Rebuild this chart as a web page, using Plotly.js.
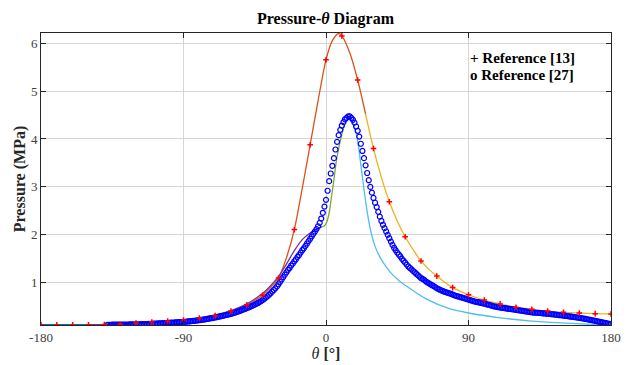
<!DOCTYPE html>
<html>
<head>
<meta charset="utf-8">
<script src="https://cdn.plot.ly/plotly-3.0.1.min.js"></script>
<style>html,body{margin:0;padding:0;background:#fff;}#chart{width:626px;height:365px;}</style>
</head>
<body>
<div id="chart"></div>
<script>
// ---- model line segments (crank angle in degrees, pressure in MPa) ----
const blueTheta = [-180, -150];
const blueP     = [0.125, 0.125];

const orangeTheta = [-150,-140,-130,-120,-110,-100,-90,-80,-70,-60,-55,-50,-45,-40,-35,-30,-25,-20,-15,-10,-5,0,4,8,10,15,20,25];
const orangeP     = [0.125,0.128,0.135,0.155,0.18,0.20,0.225,0.265,0.315,0.41,0.47,0.54,0.63,0.74,0.90,1.10,1.52,2.11,2.97,3.88,4.8,5.65,6.05,6.2,6.15,5.8,5.23,4.52];

const yellowTheta = [25,30,35,40,45,50,55,60,65,70,75,80,85,90,100,110,120,130,140,150,160,170,180];
const yellowP     = [4.52,3.80,3.2,2.69,2.29,1.96,1.69,1.456,1.28,1.14,1.01,0.90,0.82,0.75,0.64,0.56,0.49,0.446,0.41,0.384,0.37,0.357,0.35];

const purpleTheta = [-150,-130,-110,-90,-70,-60,-50,-40,-35,-30,-25,-20,-15,-10,-5,-2.5];
const purpleP     = [0.125,0.135,0.175,0.225,0.33,0.42,0.56,0.78,0.94,1.13,1.39,1.67,1.90,2.04,2.13,2.17];

const greenTheta = [-2.5,-1,0.5,2,3.5,5,6.5,8.5,10.5,12.5,14.5];
const greenP     = [2.17,2.19,2.27,2.46,2.80,3.15,3.53,3.88,4.16,4.36,4.46];

const cyanTheta = [14.5,17,19,20.5,22.5,25.5,28,31,34,38,42,46,53,63.5,78,90,110,130,152,165,180];
const cyanP     = [4.46,4.33,4.12,3.85,3.33,2.59,2.12,1.76,1.54,1.33,1.17,1.05,0.88,0.66,0.46,0.37,0.27,0.20,0.16,0.14,0.125];

// ---- Reference [13] (+ markers, every 10 deg) ----
const ref13Theta = [-180,-170,-160,-150,-140,-130,-120,-110,-100,-90,-80,-70,-60,-50,-40,-30,-20,-10,0,10,20,30,40,50,60,70,80,90,100,110,120,130,140,150,160,170,180];
const ref13P     = [0.125,0.125,0.125,0.125,0.128,0.135,0.16,0.18,0.20,0.225,0.265,0.315,0.41,0.54,0.74,1.10,2.11,3.88,5.65,6.15,5.23,3.80,2.69,1.96,1.456,1.14,0.90,0.75,0.64,0.56,0.49,0.446,0.41,0.384,0.37,0.357,0.35];

// ---- Reference [27] (o markers, every 1 deg from -138 to 180) ----
const ref27Start = -138;
const ref27P = [
  0.125,0.125,0.125,0.126,0.126,0.126,0.127,0.127,
  0.128,0.128,0.129,0.129,0.13,0.13,0.131,0.131,0.132,0.133,
  0.134,0.135,0.136,0.137,0.138,0.139,0.14,0.141,0.142,0.144,
  0.145,0.147,0.148,0.15,0.152,0.154,0.156,0.158,0.16,0.162,
  0.164,0.166,0.168,0.17,0.172,0.174,0.176,0.178,0.18,0.182,
  0.185,0.188,0.191,0.194,0.197,0.2,0.204,0.208,0.212,0.216,
  0.22,0.225,0.23,0.235,0.24,0.246,0.252,0.258,0.264,0.27,
  0.277,0.284,0.291,0.298,0.305,0.313,0.321,0.329,0.337,0.345,
  0.354,0.364,0.374,0.385,0.396,0.408,0.42,0.432,0.445,0.458,
  0.472,0.486,0.5,0.515,0.53,0.546,0.563,0.58,0.598,0.617,
  0.64,0.665,0.69,0.72,0.75,0.78,0.815,0.85,0.885,0.925,
  0.97,1.02,1.07,1.12,1.17,1.22,1.27,1.31,1.36,1.40,
  1.45,1.49,1.54,1.58,1.63,1.68,1.72,1.77,1.82,1.87,
  1.92,1.97,2.02,2.07,2.12,2.18,2.25,2.34,2.46,2.59,
  2.73,2.92,3.12,3.28,3.44,3.60,3.78,3.94,4.08,4.19,
  4.28,4.35,4.41,4.44,4.47,4.47,4.44,4.40,4.34,4.26,
  4.17,4.05,3.90,3.75,3.60,3.45,3.29,3.14,3.00,2.88,
  2.77,2.67,2.58,2.48,2.38,2.29,2.21,2.14,2.07,2.00,
  1.93,1.86,1.79,1.73,1.68,1.63,1.59,1.55,1.50,1.46,
  1.42,1.38,1.34,1.31,1.28,1.25,1.22,1.19,1.16,1.13,
  1.10,1.08,1.06,1.03,1.01,0.99,0.97,0.95,0.93,0.91,
  0.89,0.87,0.855,0.84,0.825,0.81,0.80,0.79,0.78,0.77,
  0.755,0.74,0.73,0.72,0.71,0.70,0.69,0.68,0.67,0.66,
  0.65,0.64,0.63,0.62,0.61,0.60,0.595,0.59,0.58,0.57,
  0.565,0.555,0.545,0.54,0.53,0.52,0.51,0.505,0.50,0.49,
  0.485,0.48,0.475,0.47,0.465,0.46,0.455,0.45,0.445,0.44,
  0.435,0.43,0.425,0.42,0.415,0.41,0.405,0.40,0.395,0.39,
  0.385,0.38,0.378,0.375,0.372,0.37,0.367,0.364,0.361,0.358,
  0.355,0.352,0.348,0.344,0.34,0.336,0.332,0.328,0.324,0.32,
  0.316,0.312,0.308,0.303,0.298,0.293,0.288,0.283,0.278,0.273,
  0.268,0.263,0.258,0.252,0.246,0.24,0.234,0.228,0.221,0.214,
  0.207,0.2,0.193,0.186,0.179,0.172,0.165,0.158,0.151,0.145,0.14
];
const ref27Theta = ref27P.map((_, i) => ref27Start + i);

const xTicks = [-180, -90, 0, 90, 180];
const yTicks = [1, 2, 3, 4, 5, 6];

const FONT = '"Liberation Serif", "DejaVu Serif", serif';

function lineTrace(x, y, color) {
  return {x: x, y: y, type: 'scatter', mode: 'lines',
          line: {color: color, width: 1.3, shape: 'spline', smoothing: 0.8},
          hoverinfo: 'skip', showlegend: false};
}

const traces = [
  lineTrace(blueTheta, blueP, '#0072BD'),
  lineTrace(orangeTheta, orangeP, '#D95319'),
  lineTrace(yellowTheta, yellowP, '#EDB120'),
  lineTrace(purpleTheta, purpleP, '#7E2F8E'),
  lineTrace(greenTheta, greenP, '#77AC30'),
  lineTrace(cyanTheta, cyanP, '#4DBEEE'),
  {x: ref27Theta, y: ref27P, type: 'scatter', mode: 'markers',
   marker: {symbol: 'circle-open', size: 5, color: '#0000FF', line: {width: 1.2, color: '#0000FF'}},
   showlegend: false},
  {x: ref13Theta, y: ref13P, type: 'scatter', mode: 'markers',
   marker: {symbol: 'cross-thin', size: 4, color: '#FF0000', line: {width: 1.5, color: '#FF0000'}},
   showlegend: false}
];

const axisCommon = {
  showgrid: true, gridcolor: '#d6d6d6', gridwidth: 1,
  zeroline: false, showline: true, linecolor: '#262626', linewidth: 1,
  mirror: 'ticks', ticks: 'inside', ticklen: 5, tickcolor: '#262626',
  tickfont: {family: FONT, size: 13, color: '#404040'}
};

const layout = {
  width: 626, height: 365,
  margin: {l: 41, r: 15, t: 33, b: 40},
  paper_bgcolor: '#ffffff', plot_bgcolor: '#ffffff',
  font: {family: FONT, color: '#262626'},
  title: {text: '<b>Pressure-<i>θ</i> Diagram</b>', font: {family: FONT, size: 16, color: '#000'},
          x: 0.52, xanchor: 'center', y: 0.95, yanchor: 'middle'},
  xaxis: Object.assign({}, axisCommon, {
    range: [-180, 180], tickvals: xTicks, ticktext: xTicks.map(String),
    title: {text: '<i>θ</i> <b>[°]</b>', font: {family: FONT, size: 16, color: '#262626'}, standoff: 4}
  }),
  yaxis: Object.assign({}, axisCommon, {
    range: [0.12, 6.21], tickvals: yTicks, ticktext: yTicks.map(String),
    title: {text: '<b>Pressure (MPa)</b>', font: {family: FONT, size: 16, color: '#262626'}, standoff: 1}
  }),
  annotations: [
    {xref: 'paper', yref: 'paper', x: 0.749, y: 0.915, xanchor: 'left', yanchor: 'middle',
     text: '<b>+ Reference [13]</b>', showarrow: false, font: {family: FONT, size: 15, color: '#000'}},
    {xref: 'paper', yref: 'paper', x: 0.749, y: 0.855, xanchor: 'left', yanchor: 'middle',
     text: '<b>o Reference [27]</b>', showarrow: false, font: {family: FONT, size: 15, color: '#000'}}
  ]
};

Plotly.newPlot('chart', traces, layout, {staticPlot: true, displayModeBar: false});
</script>
</body>
</html>
